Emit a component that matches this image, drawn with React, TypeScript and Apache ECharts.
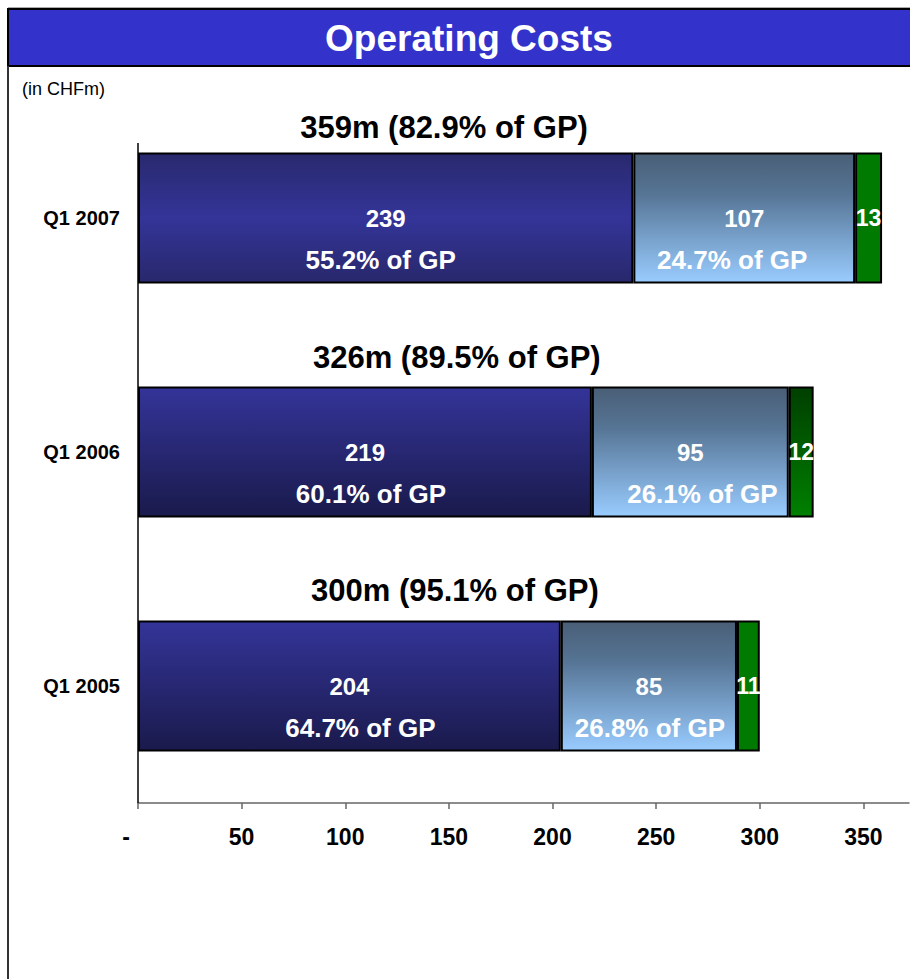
import React, { useEffect, useRef } from "react";
import * as echarts from "echarts";

// Data (bottom to top on the category axis)
const categories = ["Q1 2005", "Q1 2006", "Q1 2007"];
const personnel = [204, 219, 239];
const otherOpex = [85, 95, 107];
const depreciation = [11, 12, 13];
const totals = [300, 326, 359];
const personnelPctGP = [64.7, 60.1, 55.2];
const otherPctGP = [26.8, 26.1, 24.7];
const totalPctGP = [95.1, 89.5, 82.9];
const xTicks = [0, 50, 100, 150, 200, 250, 300, 350];

const ARIAL = "'Liberation Sans', Arial, sans-serif";

const vGrad = (stops: [number, string][]) =>
  new echarts.graphic.LinearGradient(0, 0, 0, 1, stops.map(([offset, color]) => ({ offset, color })));

const blueStyles = [
  vGrad([[0, "#343499"], [1, "#1a1a4c"]]),
  vGrad([[0, "#343499"], [1, "#1a1a4c"]]),
  vGrad([[0, "#29296e"], [0.5, "#343499"], [1, "#28286c"]]),
];
const lightStyles = [0, 1, 2].map(() =>
  vGrad([[0, "#4a5f77"], [0.3, "#557393"], [1, "#99ccff"]])
);
const greenStyles = [
  vGrad([[0, "#007a00"], [1, "#007a00"]]),
  vGrad([[0, "#003f00"], [1, "#008000"]]),
  vGrad([[0, "#007a00"], [1, "#007a00"]]),
];
const totalLabelOffsets = [[6, -10], [-19, -9], [-66, -5]];
const otherPctOffsets = [[1, 0], [12, 0], [-12, 0]];
const personnelPctOffsets = [[11, 0], [6, 0], [-5, 0]];

export default function App() {
  const ref = useRef<HTMLDivElement>(null);
  useEffect(() => {
    if (!ref.current) return;
    const chart = echarts.init(ref.current, null, { renderer: "svg" });
    const border = { borderColor: "#000", borderWidth: 2 };
    const valueLabel = {
      show: true,
      position: "inside",
      color: "#fff",
      fontFamily: ARIAL,
      fontWeight: "bold",
      fontSize: 24,
    };
    const pctLabel = (arr: number[], offsets: number[][]) => (i: number) => ({
      show: true,
      position: ["50%", "82%"],
      align: "center",
      verticalAlign: "middle",
      offset: offsets[i],
      formatter: `${arr[i].toFixed(1)}% of GP`,
      color: "#fff",
      fontFamily: ARIAL,
      fontWeight: "bold",
      fontSize: 26,
    });
    const bluePct = pctLabel(personnelPctGP, personnelPctOffsets);
    const otherPct = pctLabel(otherPctGP, otherPctOffsets);
    chart.setOption({
      animation: false,
      graphic: [
        {
          type: "rect",
          shape: { x: 8, y: 9, width: 904, height: 57 },
          style: { fill: "#3333cc", stroke: "#000", lineWidth: 2 },
        },
        {
          type: "line",
          shape: { x1: 8, y1: 7.5, x2: 910, y2: 7.5 },
          style: { stroke: "#aaa", lineWidth: 1 },
        },
        {
          type: "line",
          shape: { x1: 8, y1: 66, x2: 8, y2: 979 },
          style: { stroke: "#333", lineWidth: 2 },
        },
        {
          type: "line",
          z: 10,
          shape: { x1: 138, y1: 143, x2: 138, y2: 803 },
          style: { stroke: "#000", lineWidth: 1.5 },
        },
        {
          type: "text",
          x: 469,
          y: 38,
          style: {
            text: "Operating Costs",
            fill: "#fff",
            font: `bold 37px ${ARIAL}`,
            textAlign: "center",
            textVerticalAlign: "middle",
          },
        },
        {
          type: "text",
          x: 22,
          y: 89,
          style: {
            text: "(in CHFm)",
            fill: "#000",
            font: `18px ${ARIAL}`,
            textAlign: "left",
            textVerticalAlign: "middle",
          },
        },
      ],
      grid: { left: 138, right: 1, top: 101, bottom: 176, containLabel: false },
      xAxis: {
        type: "value",
        min: 0,
        max: 372,
        interval: 50,
        splitLine: { show: false },
        axisLine: { show: true, lineStyle: { color: "#666", width: 1.5 } },
        axisTick: { show: true, length: 6, lineStyle: { color: "#666", width: 1.5 } },
        axisLabel: {
          showMaxLabel: false,
          margin: 22,
          color: "#000",
          fontFamily: ARIAL,
          fontWeight: "bold",
          fontSize: 23,
          formatter: (v: number) => (xTicks.includes(v) ? (v === 0 ? "{dash|-}" : String(v)) : ""),
          rich: {
            dash: {
              fontFamily: ARIAL,
              fontWeight: "bold",
              fontSize: 23,
              color: "#000",
              padding: [0, 24, 0, 0],
            },
          },
        },
      },
      yAxis: {
        type: "category",
        data: categories,
        axisLine: { show: false },
        axisTick: { show: false },
        axisLabel: {
          margin: 18,
          color: "#000",
          fontFamily: ARIAL,
          fontWeight: "bold",
          fontSize: 20,
        },
      },
      series: [
        {
          name: "Personnel",
          type: "bar",
          stack: "cost",
          barWidth: 131,
          barGap: "-100%",
          data: personnel.map((v, i) => ({ value: v, itemStyle: { color: blueStyles[i], ...border } })),
          label: valueLabel,
        },
        {
          name: "Other opex",
          type: "bar",
          stack: "cost",
          barWidth: 131,
          barGap: "-100%",
          data: otherOpex.map((v, i) => ({ value: v, itemStyle: { color: lightStyles[i], ...border } })),
          label: valueLabel,
        },
        {
          name: "Depreciation",
          type: "bar",
          stack: "cost",
          barWidth: 131,
          barGap: "-100%",
          data: depreciation.map((v, i) => ({ value: v, itemStyle: { color: greenStyles[i], ...border } })),
          label: { ...valueLabel, fontSize: 23 },
        },
        {
          name: "Personnel % GP",
          type: "bar",
          stack: "pct",
          barWidth: 131,
          barGap: "-100%",
          silent: true,
          z: 5,
          data: personnel.map((v, i) => ({ value: v, label: bluePct(i) })),
          itemStyle: { color: "rgba(0,0,0,0)" },
        },
        {
          name: "Other % GP",
          type: "bar",
          stack: "pct",
          barWidth: 131,
          barGap: "-100%",
          silent: true,
          z: 5,
          data: otherOpex.map((v, i) => ({ value: v, label: otherPct(i) })),
          itemStyle: { color: "rgba(0,0,0,0)" },
        },
        {
          name: "Total",
          type: "bar",
          barWidth: 131,
          barGap: "-100%",
          silent: true,
          z: 5,
          data: totals.map((v, i) => ({
            value: v,
            label: {
              show: true,
              position: "top",
              offset: totalLabelOffsets[i],
              formatter: `${v}m (${totalPctGP[i].toFixed(1)}% of GP)`,
              color: "#000",
              fontFamily: ARIAL,
              fontWeight: "bold",
              fontSize: 31,
            },
          })),
          itemStyle: { color: "rgba(0,0,0,0)" },
        },
      ],
    });
    return () => chart.dispose();
  }, []);
  return (
    <div
      ref={ref}
      style={{ position: "absolute", left: 0, top: 0, width: 910, height: 979, background: "#fff" }}
    />
  );
}
